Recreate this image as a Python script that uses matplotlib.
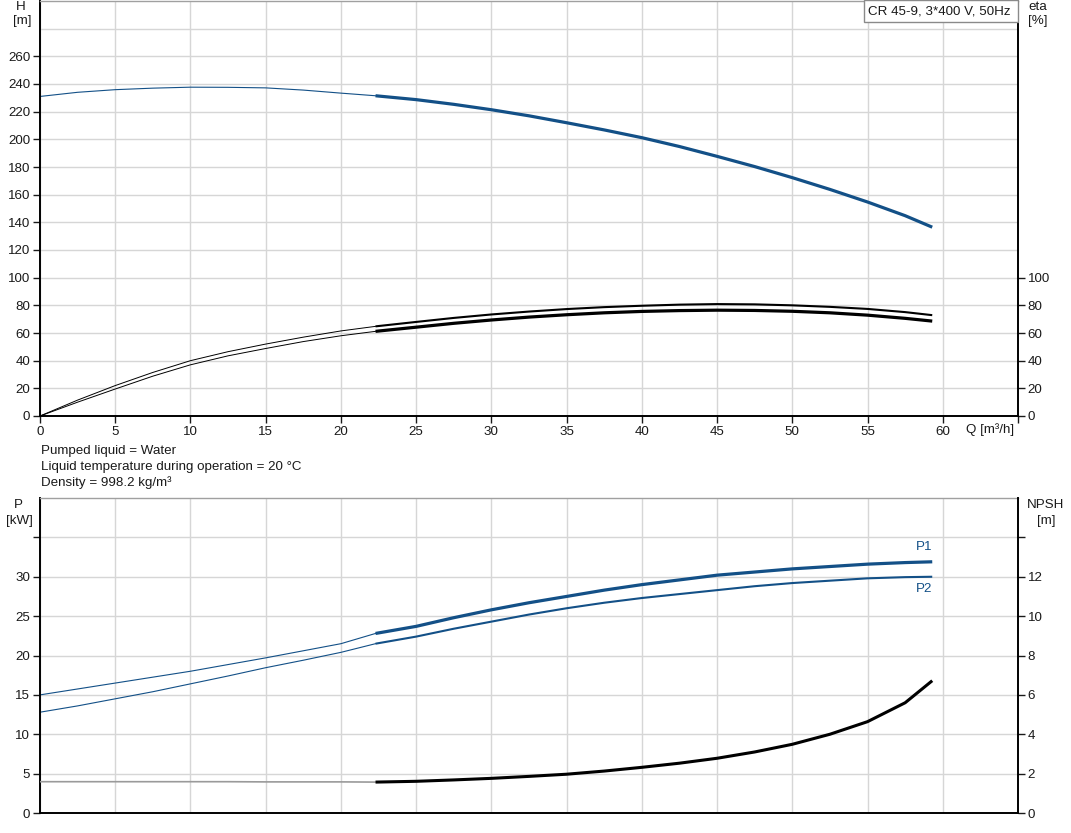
import matplotlib
matplotlib.use('Agg')
import matplotlib.pyplot as plt
from matplotlib.patches import Rectangle

plt.rcParams['font.family'] = ['Liberation Sans', 'DejaVu Sans']

# ---------------- data ----------------
q = [0, 2.5, 5, 7.5, 10, 12.5, 15, 17.5, 20, 22.3, 25, 27.5, 30, 32.5, 35,
     37.5, 40, 42.5, 45, 47.5, 50, 52.5, 55, 57.5, 59.3]
head = [231, 234, 235.9, 237, 237.7, 237.6, 237.2, 235.6, 233.4, 231.5, 228.7, 225.3,
        221.4, 217, 212, 206.8, 201.2, 194.8, 187.7, 180.3, 172.3, 163.8, 154.7, 144.8, 136.5]
eta_upper = [0, 11.5, 22, 31.5, 40, 46.5, 52, 57, 61.5, 64.8, 68, 70.9, 73.4, 75.5,
             77.3, 78.7, 79.7, 80.5, 80.9, 80.7, 80, 78.9, 77.4, 75.1, 72.9]
eta_lower = [0, 10, 19.5, 28.8, 37, 43.5, 48.8, 53.8, 58, 61.2, 64.2, 67, 69.4, 71.5,
             73.2, 74.6, 75.6, 76.2, 76.5, 76.3, 75.7, 74.6, 72.9, 70.6, 68.6]
p1 = [15, 15.75, 16.5, 17.25, 18, 18.85, 19.7, 20.6, 21.5, 22.8, 23.7, 24.8, 25.8, 26.7,
      27.5, 28.3, 29, 29.6, 30.2, 30.6, 31, 31.3, 31.6, 31.8, 31.9]
p2 = [12.8, 13.6, 14.5, 15.4, 16.4, 17.4, 18.45, 19.4, 20.4, 21.5, 22.4, 23.4, 24.3, 25.2,
      26.0, 26.7, 27.3, 27.8, 28.3, 28.8, 29.2, 29.5, 29.8, 29.95, 30.0]
npsh = [1.59, 1.59, 1.59, 1.59, 1.59, 1.59, 1.58, 1.58, 1.58, 1.57, 1.61, 1.68, 1.76, 1.86,
        1.97, 2.13, 2.32, 2.53, 2.78, 3.1, 3.49, 4.0, 4.64, 5.6, 6.72]
split = 9          # index where the operating (thick) range begins (Q = 22.3)

x_ticks = list(range(0, 66, 5))
x_labels = [str(v) for v in range(0, 61, 5)] + ['']
h_ticks = list(range(0, 261, 20))
eta_ticks = list(range(0, 101, 20))
p_ticks = list(range(0, 36, 5))
p_labels = [str(v) for v in range(0, 31, 5)] + ['']
npsh_ticks = list(range(0, 15, 2))
npsh_labels = [str(v) for v in range(0, 13, 2)] + ['']

legend_text = 'CR 45-9, 3*400 V, 50Hz'
info_lines = ['Pumped liquid = Water',
              'Liquid temperature during operation = 20 °C',
              'Density = 998.2 kg/m³']

# ---------------- styling ----------------
W, HH = 1071, 833
BLUE = '#135087'
GRID = '#d6d6d6'
TXT = '#1a1a1a'
FS = 9.6

fig = plt.figure(figsize=(W / 100, HH / 100), dpi=100)


def rect(x0, y0, x1, y1):
    return [x0 / W, 1 - y1 / HH, (x1 - x0) / W, (y1 - y0) / HH]


def style_axes(ax, axr):
    ax.set_xlim(0, 65)
    ax.grid(True, color=GRID, lw=1.0)
    ax.set_axisbelow(True)
    ax.spines['top'].set_color('#a0a0a0')
    ax.spines['top'].set_linewidth(1.0)
    ax.spines['right'].set_visible(False)
    ax.spines['left'].set_linewidth(1.4)
    ax.spines['bottom'].set_linewidth(1.4)
    for s in ['top', 'left', 'bottom']:
        axr.spines[s].set_visible(False)
    axr.spines['right'].set_linewidth(1.4)
    ax.tick_params(axis='y', direction='out', length=5, width=1, labelsize=FS, pad=2, colors=TXT)
    axr.tick_params(axis='y', direction='out', length=5, width=1, labelsize=FS, pad=2, colors=TXT)


# ---------------- top: head + efficiency ----------------
ax1 = fig.add_axes(rect(40, 1, 1018, 416))
ax1.set_ylim(0, 300)
ax1.set_xticks(x_ticks)
ax1.set_xticklabels(x_labels)
ax1.set_yticks(h_ticks)
ax1.axhline(280, color=GRID, lw=1.0, zorder=0)
ax1r = ax1.twinx()
ax1r.set_ylim(0, 300)
ax1r.set_yticks(eta_ticks)
style_axes(ax1, ax1r)
ax1.tick_params(axis='x', direction='out', length=5, width=1, labelsize=FS, pad=2, colors=TXT)

ax1.plot(q[:split + 1], head[:split + 1], color=BLUE, lw=0.8)
ax1.plot(q[split:], head[split:], color=BLUE, lw=2.3, solid_capstyle='butt')
ax1r.plot(q[:split + 1], eta_upper[:split + 1], color='black', lw=0.7)
ax1r.plot(q[split:], eta_upper[split:], color='black', lw=1.5, solid_capstyle='butt')
ax1r.plot(q[:split + 1], eta_lower[:split + 1], color='black', lw=0.7)
ax1r.plot(q[split:], eta_lower[split:], color='black', lw=2.3, solid_capstyle='butt')

# legend box
fig.patches.append(Rectangle((864 / W, 1 - 22 / HH), (1018 - 864) / W, 22 / HH,
                             transform=fig.transFigure, facecolor='white',
                             edgecolor='#8a8a8a', lw=1.0, zorder=5))
fig.text(868 / W, 1 - 11 / HH, legend_text, fontsize=FS, va='center', ha='left', color=TXT, zorder=6)

# ---------------- bottom: power + NPSH ----------------
ax2 = fig.add_axes(rect(40, 498, 1018, 813))
ax2.set_ylim(0, 40)
ax2.set_xticks(x_ticks)
ax2.tick_params(axis='x', length=0, labelbottom=False)
ax2.set_yticks(p_ticks)
ax2.set_yticklabels(p_labels)
ax2r = ax2.twinx()
ax2r.set_ylim(0, 16)
ax2r.set_yticks(npsh_ticks)
ax2r.set_yticklabels(npsh_labels)
style_axes(ax2, ax2r)

ax2.plot(q[:split + 1], p1[:split + 1], color=BLUE, lw=0.8)
ax2.plot(q[split:], p1[split:], color=BLUE, lw=2.3, solid_capstyle='butt')
ax2.plot(q[:split + 1], p2[:split + 1], color=BLUE, lw=0.8)
ax2.plot(q[split:], p2[split:], color=BLUE, lw=1.5, solid_capstyle='butt')
ax2r.plot(q[:split + 1], npsh[:split + 1], color='#9a9a9a', lw=1.2)
ax2r.plot(q[split:], npsh[split:], color='black', lw=2.2, solid_capstyle='butt')

ax2.text(q[-1], p1[-1] + 1.1, 'P1', color=BLUE, fontsize=FS, ha='right', va='bottom')
ax2.text(q[-1], p2[-1] - 0.8, 'P2', color=BLUE, fontsize=FS, ha='right', va='top')

# ---------------- texts ----------------
def ftext(x, y, s, ha='center'):
    fig.text(x / W, 1 - y / HH, s, fontsize=FS, ha=ha, va='center', color=TXT)

ftext(21, 7, 'H')
ftext(22, 21, '[m]')
ftext(1038, 7, 'eta')
ftext(1038, 21, '[%]')
ftext(18, 505, 'P')
ftext(19, 521, '[kW]')
ftext(1046, 505, 'NPSH')
ftext(1046, 521, '[m]')
ftext(966, 430, 'Q [m³/h]', ha='left')
for i, line in enumerate(info_lines):
    ftext(41, 450.5 + 16 * i, line, ha='left')

fig.savefig('out.png', dpi=100)
